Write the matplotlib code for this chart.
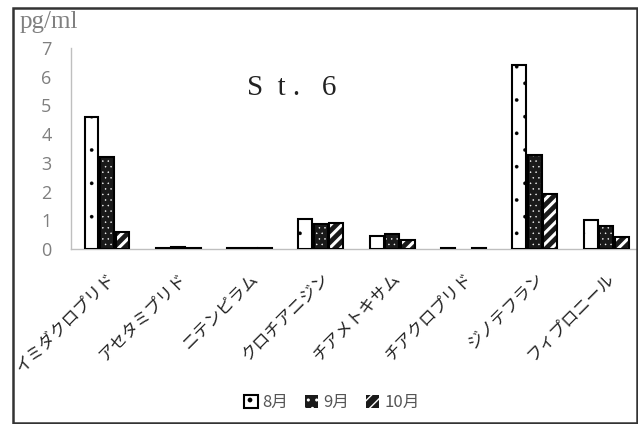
import numpy as np
import matplotlib
matplotlib.use("Agg")
import matplotlib.pyplot as plt
from matplotlib.patches import Rectangle

# data (pg/ml, station 6)
categories = ["イミダクロプリド", "アセタミプリド", "ニテンピラム", "クロチアニジン",
              "チアメトキサム", "チアクロプリド", "ジノテフラン", "フィプロニール"]
months = ["8月", "9月", "10月"]
aug = [4.6, 0.05, 0.05, 1.05, 0.45, 0.05, 6.4, 1.0]
sep = [3.2, 0.08, 0.05, 0.87, 0.52, np.nan, 3.27, 0.8]
octo = [0.6, 0.05, 0.05, 0.92, 0.3, 0.05, 1.9, 0.42]

plt.rcParams["font.family"] = ["Noto Sans CJK JP", "DejaVu Sans"]

W, H = 638, 424
fig = plt.figure(figsize=(W / 100, H / 100), dpi=100)
ax = fig.add_axes([71 / W, 1 - 249 / H, (W - 71) / W, (249 - 48) / H])

x = np.arange(len(categories))
bw = 0.195
off = 0.217


def hatched(xs, vals, fc, hc, hatch, hlw):
    with plt.rc_context({"hatch.linewidth": hlw}):
        bars = ax.bar(xs, vals, bw, facecolor=fc, edgecolor=hc, hatch=hatch, lw=0, zorder=3)
    for p in bars:
        if hasattr(p, "set_hatch_linewidth"):
            p.set_hatch_linewidth(hlw)
    ax.bar(xs, vals, bw, fill=False, edgecolor="black", lw=1.5, zorder=4)
    return bars


b1 = hatched(x - off, aug, "white", "black", ".", 0.2)      # 8月
b2 = hatched(x, sep, "#1a1a1a", "white", "...", 0.3)        # 9月
b3 = hatched(x + off, octo, "#1a1a1a", "white", "///", 2.2) # 10月

ax.set_xlim(-0.505, 7.447)
ax.set_ylim(0, 7)
ax.set_yticks(range(0, 8))
ax.set_xticks(x)
ax.set_xticklabels(categories)
plt.setp(ax.get_xticklabels(), rotation=45, ha="right", va="top",
         rotation_mode="anchor", fontsize=12, color="#222222")
ax.tick_params(axis="x", length=0, pad=15)
ax.tick_params(axis="y", length=0, pad=14, labelcolor="#7f7f7f", labelsize=13)
for lab in ax.get_yticklabels():
    lab.set_family(["Open Sans", "DejaVu Sans"])
for s in ["top", "right"]:
    ax.spines[s].set_visible(False)
for s in ["left", "bottom"]:
    ax.spines[s].set_color("#bfbfbf")
    ax.spines[s].set_linewidth(1.0)

fig.text(20 / W, 1 - 28 / H, "pg/ml", family="Liberation Serif", fontsize=18,
         color="#808080", va="baseline")
fig.text(247 / W, 1 - 95 / H, "S  t .   6", family="Liberation Serif", fontsize=21,
         color="#222222", va="baseline")

with plt.rc_context({"hatch.linewidth": 0.3}):
    h1 = Rectangle((0, 0), 1, 1, facecolor="white", edgecolor="black", hatch=".", lw=1.5)
    h2 = Rectangle((0, 0), 1, 1, facecolor="#1a1a1a", edgecolor="white", hatch="..", lw=0)
with plt.rc_context({"hatch.linewidth": 2.0}):
    h3 = Rectangle((0, 0), 1, 1, facecolor="#1a1a1a", edgecolor="white", hatch="///", lw=0)
fig.legend([h1, h2, h3], months, loc="lower center", bbox_to_anchor=(332 / W, -2 / H),
           ncol=3, frameon=False, handlelength=0.8, handleheight=0.8,
           handletextpad=0.3, columnspacing=1.0, fontsize=12, labelcolor="#555555")

fig.patches.append(Rectangle((13 / W, 1 - 423 / H), (637 - 13) / W, (423 - 8) / H,
                             transform=fig.transFigure, fill=False,
                             edgecolor="#333333", lw=1.8))

fig.savefig("out.png", dpi=100)
